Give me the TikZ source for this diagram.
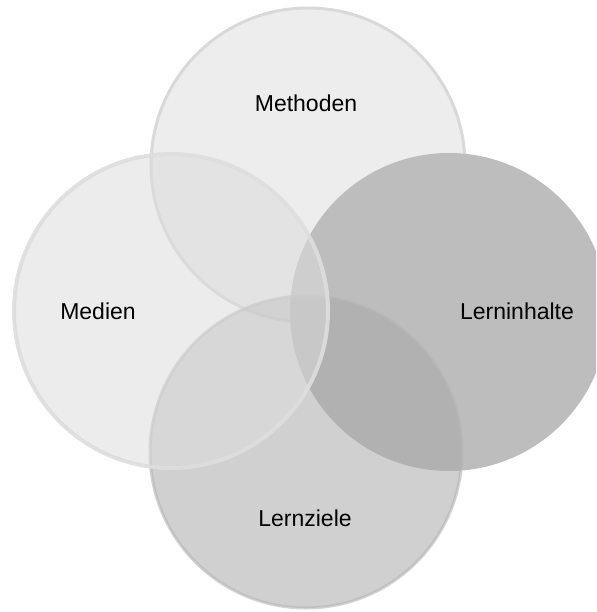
\documentclass[tikz,border=0pt]{standalone}
\usepackage{fontspec}
\setmainfont{Liberation Sans}
\begin{document}
\definecolor{methfill}{RGB}{237,237,237}
\definecolor{methline}{RGB}{217,217,217}
\definecolor{inhfill}{RGB}{189,189,189}
\definecolor{zielfill}{RGB}{168,168,168}
\definecolor{zielline}{RGB}{180,180,180}
\definecolor{medfill}{RGB}{220,220,220}
\definecolor{medline}{RGB}{222,222,222}
\begin{tikzpicture}[x=1pt,y=-1pt,
  disc/.style={circle,inner sep=0pt,minimum size=#1},
  lbl/.style={font=\fontsize{23}{26}\selectfont,text=black,inner sep=0pt}]
\useasboundingbox (0,0) rectangle (596,612);
\clip (0,0) rectangle (596,612);
% four overlapping areas, drawn back to front
\node[disc=314pt,fill=methfill,draw=methline,line width=3pt] (meth) at (308,165) {};
\node[disc=318pt,fill=inhfill] (inh) at (449,312) {};
\node[disc=312pt,fill=zielfill,fill opacity=0.54,draw=zielline,draw opacity=0.6,line width=3pt] (ziel) at (306,452) {};
\node[disc=314pt,fill=medfill,fill opacity=0.55,draw=medline,draw opacity=0.9,line width=4pt] (med) at (171,311) {};
% labels
\node[lbl] (tmeth) at (306,103) {Methoden};
\node[lbl] (tmed) at (98,311) {Medien};
\node[lbl] (tinh) at (517,311) {Lerninhalte};
\node[lbl] (tziel) at (305,518) {Lernziele};
\end{tikzpicture}
\end{document}
